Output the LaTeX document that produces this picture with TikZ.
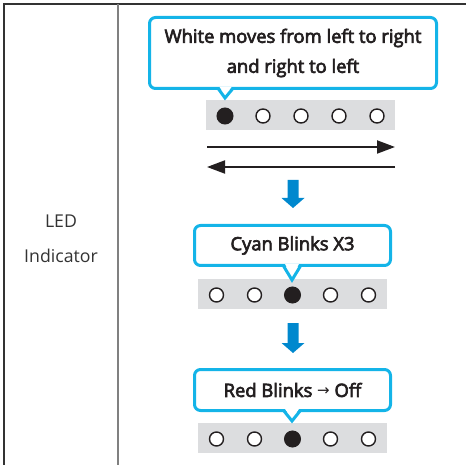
\documentclass[tikz,border=0pt]{standalone}
\usepackage{fontspec}
\setmainfont{Open Sans}
\newfontfamily\medfont{Open Sans}[FakeBold=3.5]
\newfontfamily\symfont{DejaVu Sans}
\usetikzlibrary{arrows.meta,calc}
\definecolor{bubcyan}{RGB}{20,180,232}
\definecolor{arrblue}{RGB}{0,136,206}
\definecolor{stripgray}{RGB}{220,221,223}
\definecolor{ink}{RGB}{35,31,32}
\tikzset{
  bubble/.style={draw=bubcyan, line width=3pt, fill=white, rounded corners=6pt, inner sep=0pt, text=ink, font=\medfont\fontsize{18.4}{30}\selectfont, align=center},
  tailline/.style={draw=bubcyan, line width=3pt, line join=miter},
  strip/.style={fill=stripgray, draw=none, inner sep=0pt},
  ledon/.style={circle, fill=ink, draw=ink, line width=1pt, minimum size=16pt, inner sep=0pt},
  ledoff/.style={circle, fill=white, draw=ink, line width=1.4pt, minimum size=14pt, inner sep=0pt},
  flowarrow/.style={draw=ink, line width=2pt, -{Triangle[length=18pt,width=13pt]}},
  bluearrow/.style={fill=arrblue, draw=none},
  frameline/.style={draw=black!80, line width=1.5pt},
  divline/.style={draw=black!50, line width=1.8pt},
  label/.style={text=black!80, font=\fontsize{17.7}{35}\selectfont, align=center}
}
\begin{document}
\begin{tikzpicture}[x=1pt,y=-1pt]
\useasboundingbox (0,0) rectangle (466,465);
% frame
\draw[frameline] (4,465) -- (4,4) -- (466,4);
\draw[divline] (118,4) -- (118,465);
\node[label] (lbl) at (61,239) {LED\\Indicator};

% ---- stage 1
\node[strip, minimum width=189pt, minimum height=30pt] (s1) at (300.5,115) {};
\node[ledon]  (s1a) at (225,116) {};
\node[ledoff] (s1b) at (263,116) {};
\node[ledoff] (s1c) at (301,116) {};
\node[ledoff] (s1d) at (339,116) {};
\node[ledoff] (s1e) at (377,116) {};
\node[bubble, minimum width=287pt, minimum height=71pt] (b1) at (293,53) {White moves from left to right\\and right to left};
\coordinate (t1) at (225,98);
\fill[white] (219.5,87) -- (231.5,87) -- (225.5,96) -- cycle;
\draw[tailline] (218.5,89) -- (t1) -- (232.5,89);

% double arrows
\coordinate (r1) at (207,147);
\coordinate (r2) at (395,147);
\coordinate (l1) at (395,167);
\coordinate (l2) at (207,167);
\draw[flowarrow] (r1) -- (r2);
\draw[flowarrow] (l1) -- (l2);

% blue arrow 1
\coordinate (ba1) at (293,180);
\fill[bluearrow] ($(ba1)+(-5.5,0)$) -- ++(11,0) -- ++(0,18) -- ++(6,0) -- ($(ba1)+(0,28)$) -- ($(ba1)+(-11.5,18)$) -- ++(6,0) -- cycle;

% ---- stage 2
\node[strip, minimum width=189pt, minimum height=30pt] (s2) at (292.5,294) {};
\node[ledoff] (s2a) at (216.5,295) {};
\node[ledoff] (s2b) at (254.5,295) {};
\node[ledon]  (s2c) at (292.5,295) {};
\node[ledoff] (s2d) at (330.5,295) {};
\node[ledoff] (s2e) at (368.5,295) {};
\node[bubble, minimum width=196pt, minimum height=40pt] (b2) at (292.5,245.5) {Cyan Blinks X3};
\coordinate (t2) at (292,280);
\fill[white] (285,264) -- (299,264) -- (292,277) -- cycle;
\draw[tailline] (283.5,266) -- (t2) -- (300.5,266);

% blue arrow 2
\coordinate (ba2) at (293,323);
\fill[bluearrow] ($(ba2)+(-5.5,0)$) -- ++(11,0) -- ++(0,20) -- ++(6,0) -- ($(ba2)+(0,30)$) -- ($(ba2)+(-11.5,20)$) -- ++(6,0) -- cycle;

% ---- stage 3
\node[strip, minimum width=189pt, minimum height=30pt] (s3) at (292.5,438) {};
\node[ledoff] (s3a) at (216.5,439) {};
\node[ledoff] (s3b) at (254.5,439) {};
\node[ledon]  (s3c) at (292.5,439) {};
\node[ledoff] (s3d) at (330.5,439) {};
\node[ledoff] (s3e) at (368.5,439) {};
\node[bubble, minimum width=196pt, minimum height=41pt] (b3) at (292.5,390) {Red Blinks {\symfont\fontsize{15}{15}\selectfont\raisebox{1.5pt}{→}} Off};
\coordinate (t3) at (292,421);
\fill[white] (285,409) -- (299,409) -- (292,419) -- cycle;
\draw[tailline] (284,411) -- (t3) -- (300,411);
\end{tikzpicture}
\end{document}
